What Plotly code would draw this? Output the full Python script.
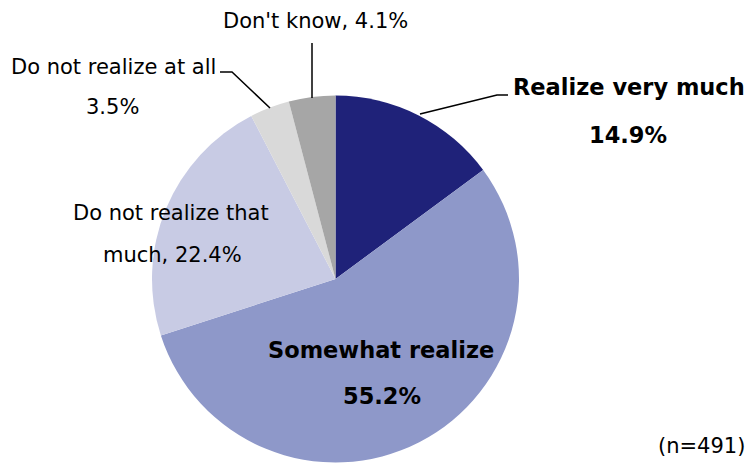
import plotly.graph_objects as go

categories = ["Realize very much", "Somewhat realize", "Do not realize that much",
              "Do not realize at all", "Don't know"]
values = [14.9, 55.2, 22.4, 3.5, 4.1]
colors = ["#1F2279", "#8E98C9", "#C8CBE4", "#D9D9D9", "#A6A6A6"]
n_label = "(n=491)"

W, H = 750, 464
FONT = "DejaVu Sans"

# pie geometry in screen pixels
CX, CY, R = 335.5, 279, 183.5

def px(x, y):
    return x / W, (H - y) / H

x0, _ = px(CX - R, 0)
x1, _ = px(CX + R, 0)
_, y1 = px(0, CY - R)
_, y0 = px(0, CY + R)

fig = go.Figure(go.Pie(
    labels=categories, values=values, sort=False, direction="clockwise",
    rotation=0, marker=dict(colors=colors, line=dict(width=0)),
    textinfo="none", hoverinfo="label+percent", showlegend=False,
    domain=dict(x=[x0, x1], y=[max(y0, 0), y1]),
))

def ann(text, x, y, bold=False, xanchor="center"):
    ax, ay = px(x, y)
    fig.add_annotation(x=ax, y=ay, xref="paper", yref="paper",
                       text=f"<b>{text}</b>" if bold else text,
                       showarrow=False, xanchor=xanchor, yanchor="middle",
                       font=dict(family=FONT, size=22.5 if bold else 21, color="#000000"))

def line(points):
    path = "M " + " L ".join(f"{px(x, y)[0]},{px(x, y)[1]}" for x, y in points)
    fig.add_shape(type="path", path=path, xref="paper", yref="paper",
                  line=dict(color="#000000", width=1.5))

ann(f"{categories[4]}, {values[4]}%", 315, 21)
ann(categories[3], 113, 67)
ann(f"{values[3]}%", 112, 107)
ann(categories[0], 629, 87, bold=True)
ann(f"{values[0]}%", 628, 135, bold=True)
ann("Do not realize that", 171, 213)
ann(f"much, {values[2]}%", 172, 255)
ann(categories[1], 381, 350, bold=True)
ann(f"{values[1]}%", 382, 396, bold=True)
ann(n_label, 747, 446, xanchor="right")

line([(312, 43), (312, 98)])
line([(220, 72), (232, 72), (270, 108)])
line([(420, 114), (497, 95), (508, 95)])

fig.update_layout(width=W, height=H, margin=dict(l=0, r=0, t=0, b=0),
                  paper_bgcolor="white", plot_bgcolor="white")
fig.write_html("out.html", config={"displayModeBar": False},
               post_script="document.body.style.margin='0px';document.body.style.overflow='hidden';")
